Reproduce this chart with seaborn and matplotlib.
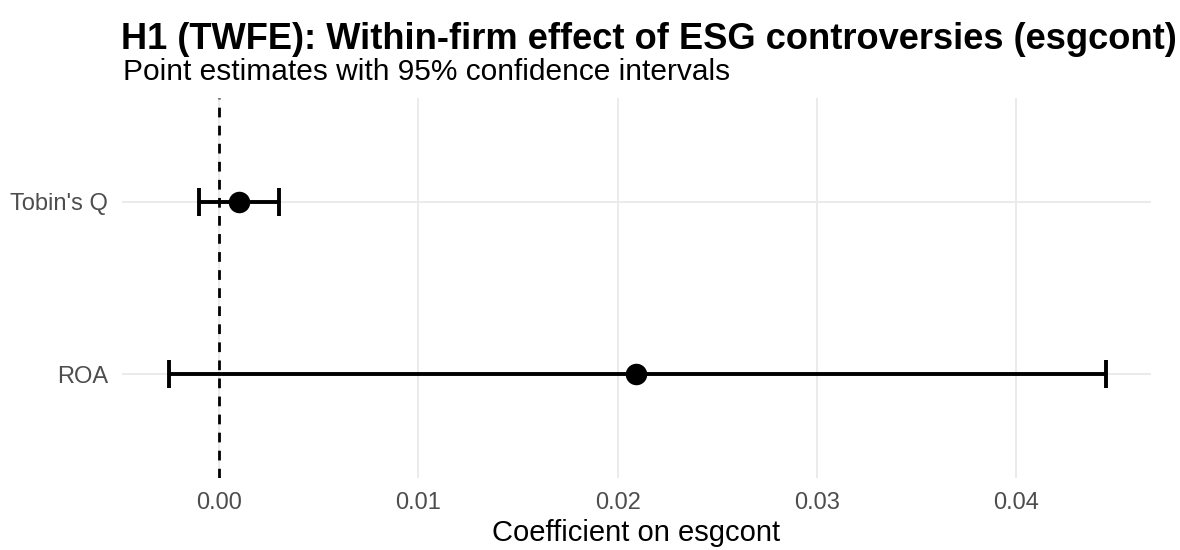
import matplotlib.pyplot as plt
import numpy as np
import pandas as pd
import seaborn as sns

# Coefficient estimates
outcomes = ["ROA", "Tobin's Q"]
estimates = [0.0209, 0.0010]
ci_low = [-0.0025, -0.0010]
ci_high = [0.0445, 0.0030]
x_ticks = [0.00, 0.01, 0.02, 0.03, 0.04]

df = pd.DataFrame({"outcome": outcomes, "estimate": estimates,
                   "lo": ci_low, "hi": ci_high})

sns.set_theme(style="whitegrid")
plt.rcParams["font.family"] = ["Liberation Sans", "DejaVu Sans"]

fig, ax = plt.subplots(figsize=(11.8, 5.5), dpi=100)
fig.subplots_adjust(left=122 / 1180, right=1151 / 1180, bottom=1 - 478 / 550, top=1 - 98 / 550)

# zero reference line
ax.axvline(0, color="black", lw=2, ls=(0, (3.5, 3)), zorder=2)

# 95% CIs
ax.errorbar(df["estimate"], df["outcome"],
            xerr=[df["estimate"] - df["lo"], df["hi"] - df["estimate"]],
            fmt="none", ecolor="black", elinewidth=2.8, capsize=10, capthick=2.8, zorder=3)

# point estimates
sns.scatterplot(data=df, x="estimate", y="outcome", color="black", s=240,
                linewidth=0, ax=ax, zorder=4)

ax.set_xlim(-0.00487, 0.04676)
ax.set_ylim(-0.6, 1.6)
ax.set_xticks(x_ticks)
ax.set_xticklabels([f"{t:.2f}" for t in x_ticks])

for s in ax.spines.values():
    s.set_visible(False)
ax.grid(True, color="#EBEBEB", lw=1.4)
ax.tick_params(axis="both", length=0, labelsize=17, labelcolor="#4D4D4D")
ax.tick_params(axis="x", pad=10)
ax.tick_params(axis="y", pad=10)

ax.set_ylabel("")
ax.set_xlabel("Coefficient on esgcont", fontsize=21, color="black", labelpad=4)

fig.text(121 / 1180, 1 - 49 / 550, "H1 (TWFE): Within-firm effect of ESG controversies (esgcont)",
         fontsize=26.1, fontweight="bold", color="black", va="baseline", ha="left")
fig.text(123 / 1180, 1 - 80 / 550, "Point estimates with 95% confidence intervals",
         fontsize=21.5, color="black", va="baseline", ha="left")

fig.savefig("out.png", dpi=100)
